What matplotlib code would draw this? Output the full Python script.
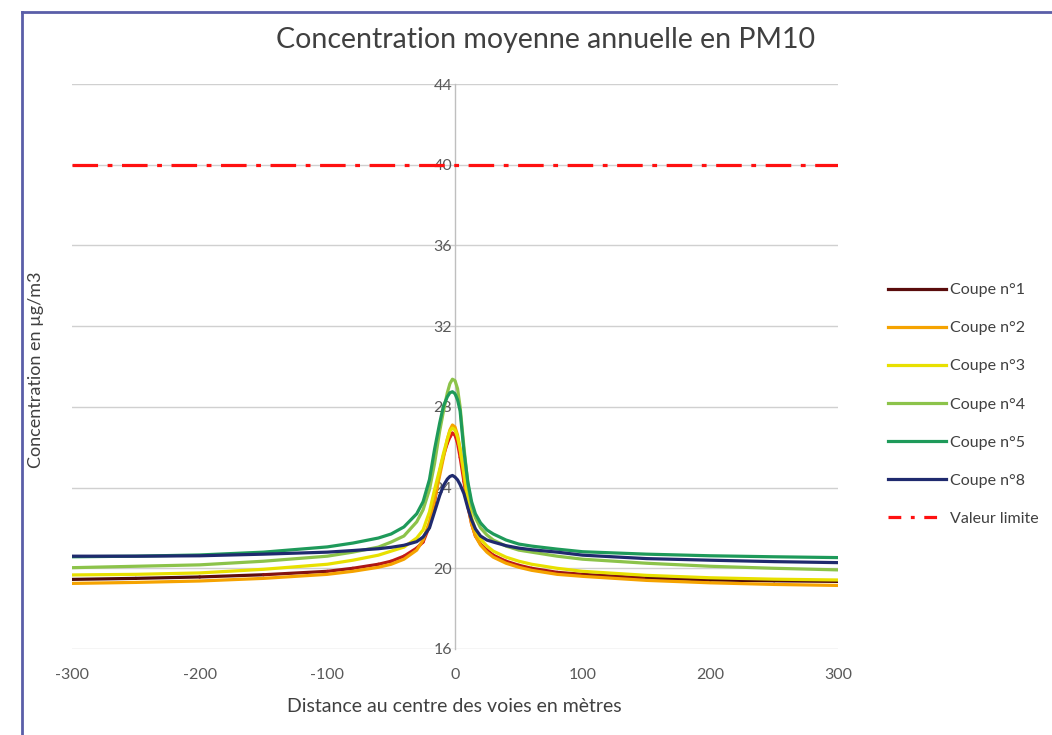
import numpy as np
import matplotlib
matplotlib.use("Agg")
import matplotlib.pyplot as plt
from matplotlib.lines import Line2D
from matplotlib.collections import LineCollection

plt.rcParams['font.family'] = ['Lato', 'DejaVu Sans']

# ---- data ----
distance = [-300, -250, -200, -150, -100, -80, -60, -50, -40, -30, -25, -20, -16, -12, -9, -6, -4, -2,
            0, 2, 4, 7, 10, 13, 16, 20, 25, 30, 40, 50, 60, 80, 100, 150, 200, 250, 300]
coupe1 = [19.45, 19.5, 19.57, 19.68, 19.85, 20.0, 20.2, 20.35, 20.6, 21.0, 21.3, 22.1, 23.3, 24.8, 25.6, 26.2, 26.5, 26.7,
          26.6, 26.2, 25.5, 24.3, 23.1, 22.2, 21.6, 21.2, 20.9, 20.65, 20.35, 20.15, 20.0, 19.8, 19.7, 19.52, 19.42, 19.38, 19.35]
coupe2 = [19.25, 19.3, 19.37, 19.5, 19.7, 19.85, 20.05, 20.2, 20.45, 20.9, 21.4, 22.3, 23.4, 24.6, 25.5, 26.4, 26.85, 27.1,
          27.0, 26.6, 25.9, 24.6, 23.2, 22.2, 21.6, 21.15, 20.8, 20.55, 20.25, 20.05, 19.9, 19.7, 19.6, 19.4, 19.28, 19.2, 19.15]
coupe3 = [19.67, 19.7, 19.77, 19.95, 20.2, 20.4, 20.65, 20.85, 21.05, 21.5, 21.9, 22.8, 23.9, 24.9, 25.7, 26.4, 26.8, 26.95,
          26.85, 26.5, 25.9, 24.8, 23.5, 22.5, 21.9, 21.45, 21.1, 20.85, 20.55, 20.35, 20.2, 20.0, 19.85, 19.65, 19.53, 19.46, 19.42]
coupe4 = [20.03, 20.1, 20.17, 20.35, 20.6, 20.8, 21.05, 21.3, 21.6, 22.3, 22.9, 23.9, 25.2, 26.8, 27.8, 28.7, 29.15, 29.37,
          29.3, 28.9, 28.0, 26.0, 24.2, 23.1, 22.5, 22.0, 21.65, 21.4, 21.1, 20.9, 20.8, 20.6, 20.45, 20.25, 20.1, 20.0, 19.92]
coupe5 = [20.57, 20.6, 20.66, 20.8, 21.06, 21.25, 21.5, 21.7, 22.05, 22.7, 23.3, 24.4, 25.9, 27.2, 28.05, 28.5, 28.7, 28.75,
          28.65, 28.35, 27.8, 25.8, 24.3, 23.3, 22.7, 22.25, 21.9, 21.7, 21.4, 21.2, 21.1, 20.95, 20.82, 20.7, 20.62, 20.57, 20.53]
coupe8 = [20.6, 20.6, 20.62, 20.7, 20.8, 20.88, 20.97, 21.04, 21.14, 21.32, 21.55, 22.0, 22.8, 23.6, 24.1, 24.42, 24.55, 24.6,
          24.52, 24.38, 24.15, 23.7, 23.0, 22.4, 21.95, 21.6, 21.4, 21.3, 21.12, 21.0, 20.92, 20.8, 20.65, 20.48, 20.4, 20.33, 20.28]
valeur_limite = 40

series_labels = ['Coupe n°1', 'Coupe n°2', 'Coupe n°3', 'Coupe n°4', 'Coupe n°5', 'Coupe n°8']
limit_label = 'Valeur limite'
title = 'Concentration moyenne annuelle en PM10'
xlabel = 'Distance au centre des voies en mètres'
ylabel = 'Concentration en µg/m3'
xticks = [-300, -200, -100, 0, 100, 200, 300]
yticks = [16, 20, 24, 28, 32, 36, 40, 44]

colors = ['#5a0c0c', '#f5a300', '#e8e000', '#8cc34a', '#1e9a5a', '#1f2a6e']

W, H = 1052, 735
fig = plt.figure(figsize=(W / 100, H / 100), dpi=100)
fig.patch.set_facecolor('white')

ax = fig.add_axes([72 / W, 1 - 649 / H, (838 - 72) / W, (649 - 84) / H])
ax.set_xlim(-300, 300)
ax.set_ylim(16, 44)

grid_c = '#d0d0d0'
for yv in yticks:
    ax.axhline(yv, color=grid_c, lw=1.0, zorder=0)

lw = 2.3
x = np.array(distance, dtype=float)
all_series = [coupe1, coupe2, coupe3, coupe4, coupe5, coupe8]
handles = []
for i, (ys, c, lab) in enumerate(zip(all_series, colors, series_labels)):
    ys = np.array(ys, dtype=float)
    if i == 0:
        # gradient: dark maroon far from road, red near centre
        pts = np.array([x, ys]).T.reshape(-1, 1, 2)
        segs = np.concatenate([pts[:-1], pts[1:]], axis=1)
        mid = np.abs((x[:-1] + x[1:]) / 2)
        t = np.clip(mid / 200.0, 0, 1)
        c_near = np.array([0.88, 0.12, 0.10])
        c_far = np.array([0.30, 0.04, 0.04])
        cols = [tuple(c_near * (1 - tt) + c_far * tt) for tt in t]
        lc = LineCollection(segs, colors=cols, linewidths=lw, capstyle='round', joinstyle='round', zorder=3)
        ax.add_collection(lc)
    else:
        ax.plot(x, ys, color=c, lw=lw, solid_joinstyle='round', solid_capstyle='round', zorder=3 + i * 0.1)
    handles.append(Line2D([0], [0], color=c, lw=lw))

ax.plot([-300, 300], [valeur_limite, valeur_limite], color='#ff1010', lw=2.3,
        dashes=(8, 3, 1.5, 3), zorder=5)
handles.append(Line2D([0], [0], color='#ff1010', lw=2.3, dashes=(4, 3, 1.2, 3)))

for s in ['top', 'right', 'bottom']:
    ax.spines[s].set_visible(False)
ax.spines['left'].set_position(('data', 0))
ax.spines['left'].set_color('#bfbfbf')
ax.spines['left'].set_linewidth(1.0)
ax.set_yticks(yticks)
ax.set_yticklabels([str(v) for v in yticks])
ax.set_xticks(xticks)
ax.set_xticklabels([str(v) for v in xticks])
ax.tick_params(axis='y', length=0, pad=2, labelsize=11.5, labelcolor='#595959')
ax.tick_params(axis='x', length=0, pad=14, labelsize=11.5, labelcolor='#595959')
ax.set_facecolor('none')

fig.text(546 / W, 1 - 40 / H, title, ha='center', va='center', fontsize=20.5, color='#404040')
fig.text(454 / W, 1 - 706 / H, xlabel, ha='center', va='center', fontsize=14, color='#404040')
fig.text(36 / W, 1 - 370 / H, ylabel, ha='center', va='center', rotation=90, fontsize=13, color='#404040')

leg = fig.legend(handles, series_labels + [limit_label], loc='upper left',
                 bbox_to_anchor=(888 / W, 1 - 283 / H), frameon=False,
                 fontsize=11.5, handlelength=3.6, handletextpad=0.3, labelspacing=1.5,
                 borderaxespad=0, borderpad=0)
for t in leg.get_texts():
    t.set_color('#404040')

# blue frame
fc = '#5a5ea8'
fig.add_artist(Line2D([22 / W, 22 / W], [0, 1 - 12 / H], color=fc, lw=2.0, transform=fig.transFigure))
fig.add_artist(Line2D([22 / W, 1.0], [1 - 12 / H, 1 - 12 / H], color=fc, lw=2.0, transform=fig.transFigure))

fig.savefig('out.png', dpi=100)
